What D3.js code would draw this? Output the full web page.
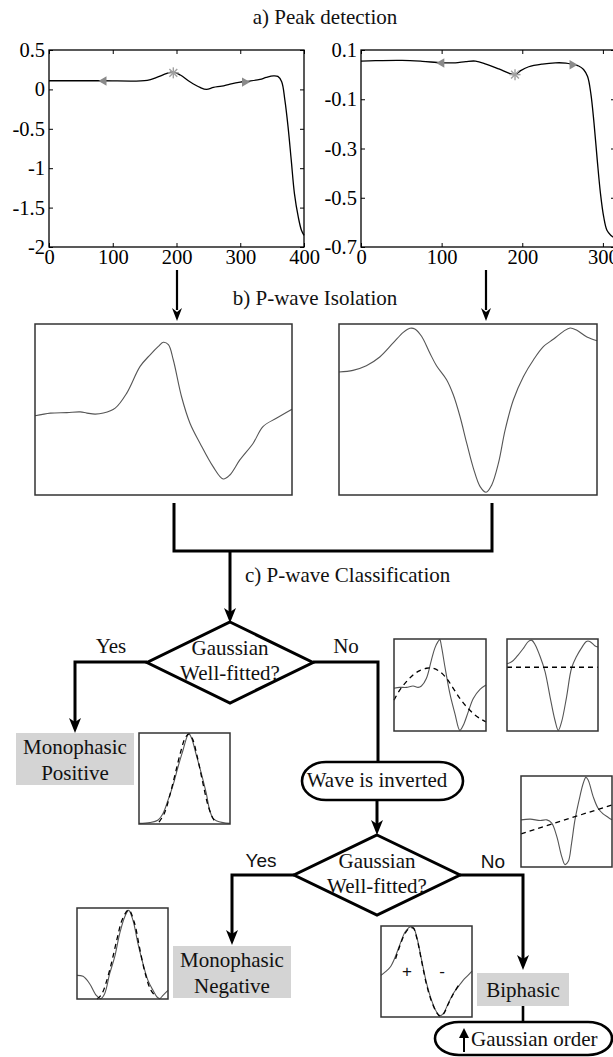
<!DOCTYPE html>
<html>
<head>
<meta charset="utf-8">
<script src="https://cdn.jsdelivr.net/npm/d3@7"></script>
<style>
body { margin: 0; background: #fff; }
svg { display: block; }
</style>
</head>
<body>
<div id="chart"></div>
<script>
// ---- a) peak detection traces ----
const peakLeftX = [0, 81, 154, 169, 185, 195, 206, 221, 237, 247, 258, 271, 284, 300, 315, 331, 341, 352, 359, 365, 370, 375, 380, 385, 391, 396, 400];
const peakLeftY = [0.11, 0.11, 0.114, 0.153, 0.203, 0.222, 0.182, 0.097, 0.025, 0.0, 0.025, 0.042, 0.068, 0.093, 0.106, 0.127, 0.153, 0.172, 0.165, 0.097, -0.136, -0.475, -0.898, -1.322, -1.619, -1.788, -1.852];
const peakLeftMarks = [[86, 0.106, "left"], [195, 0.21, "star"], [307, 0.093, "right"]];
const peakLeftYTicks = [0.5, 0, -0.5, -1, -1.5, -2];
const peakLeftXTicks = [0, 100, 200, 300, 400];

const peakRightX = [0, 18, 51, 76, 100, 117, 130, 142, 155, 171, 184, 191, 198, 208, 225, 241, 254, 262, 270, 276, 281, 285, 289, 293, 297, 301, 305, 310, 314];
const peakRightY = [0.055, 0.057, 0.058, 0.054, 0.048, 0.048, 0.053, 0.055, 0.043, 0.023, 0.005, 0.0, 0.016, 0.032, 0.043, 0.048, 0.047, 0.042, 0.035, 0.021, -0.008, -0.076, -0.198, -0.347, -0.483, -0.578, -0.632, -0.653, -0.662];
const peakRightMarks = [[100, 0.047, "left"], [191, 0.0, "star"], [262, 0.04, "right"]];
const peakRightYTicks = [0.1, -0.1, -0.3, -0.5, -0.7];
const peakRightXTicks = [0, 100, 200, 300];

// ---- b) isolated P-waves (sample %, normalised amplitude) ----
const isoLeftT = [0, 6, 12.4, 17.6, 20.2, 23.4, 26.6, 31.2, 35.7, 40.9, 44.8, 48, 49.9, 51.9, 53.8, 57, 60.3, 64.2, 69.3, 73.2, 75.8, 79.7, 84.9, 88.7, 93.9, 100];
const isoLeftV = [0.463, 0.479, 0.482, 0.486, 0.479, 0.473, 0.479, 0.508, 0.596, 0.752, 0.82, 0.869, 0.893, 0.879, 0.791, 0.576, 0.42, 0.303, 0.166, 0.094, 0.117, 0.205, 0.303, 0.4, 0.449, 0.502];
const isoRightT = [0, 5.4, 10.6, 15.8, 21, 24.9, 27.5, 29.4, 32, 35.2, 37.8, 41.7, 44.3, 46.9, 49.5, 52.1, 54.7, 57, 59.2, 61.8, 64.4, 67.6, 71.5, 75.4, 79.3, 83.2, 87, 89.6, 92.2, 96.1, 100];
const isoRightV = [0.719, 0.729, 0.756, 0.807, 0.889, 0.951, 0.975, 0.971, 0.928, 0.83, 0.756, 0.674, 0.586, 0.459, 0.303, 0.156, 0.049, 0.016, 0.059, 0.186, 0.381, 0.557, 0.693, 0.791, 0.869, 0.912, 0.957, 0.977, 0.963, 0.924, 0.902];

// ---- c) classification insets: solid = wave, dashed = gaussian fit ----
const fitBadT = [0, 6.2, 13.5, 20.7, 26.2, 29.8, 35.3, 40.7, 44.4, 48, 49.8, 51.6, 55.3, 60.7, 66.2, 71.6, 75.3, 80.7, 86.2, 93.5, 100];
const fitBadV = [0.464, 0.474, 0.474, 0.489, 0.474, 0.489, 0.573, 0.774, 0.901, 0.974, 0.993, 0.92, 0.701, 0.409, 0.19, 0.007, 0.062, 0.208, 0.354, 0.453, 0.5];
const fitBadFitT = [0, 6.2, 13.5, 20.7, 28, 35.3, 42.5, 49.8, 57.1, 64.4, 71.6, 78.9, 86.2, 93.5, 100];
const fitBadFitV = [0.336, 0.445, 0.536, 0.609, 0.657, 0.682, 0.682, 0.646, 0.573, 0.464, 0.354, 0.263, 0.19, 0.135, 0.099];

const fitNegT = [0, 5.5, 10.9, 18.2, 23.6, 27.3, 30.9, 36.4, 41.8, 47.3, 52.7, 56.4, 60, 65.5, 70.9, 76.4, 81.8, 87.3, 90.9, 96.4, 100];
const fitNegV = [0.73, 0.755, 0.81, 0.901, 0.974, 0.985, 0.938, 0.81, 0.646, 0.372, 0.117, 0.007, 0.099, 0.372, 0.682, 0.81, 0.901, 0.974, 0.974, 0.927, 0.912];
const fitNegFitT = [0, 100];
const fitNegFitV = [0.693, 0.693];

const monoPosT = [0, 11.8, 21, 26.5, 32, 37.5, 43, 48.5, 52.9, 54.8, 57.7, 62.9, 68.4, 73.9, 77.6, 81.3, 84.9, 92.3, 100];
const monoPosV = [0.007, 0.015, 0.044, 0.118, 0.265, 0.43, 0.632, 0.816, 0.963, 0.993, 0.945, 0.761, 0.559, 0.338, 0.154, 0.063, 0.037, 0.015, 0.007];
const monoPosFitT = [22, 28, 34, 40, 46, 51, 55, 59, 64, 70, 76, 82, 86];
const monoPosFitV = [0.02, 0.12, 0.32, 0.56, 0.8, 0.95, 0.99, 0.93, 0.74, 0.46, 0.2, 0.05, 0.01];

const invBadT = [0, 10.2, 21.1, 28.4, 33.8, 39.3, 44.7, 48.4, 52, 55.6, 59.3, 64.7, 68.4, 71.3, 73.8, 79.3, 84.7, 90.2, 95.6, 100];
const invBadV = [0.518, 0.526, 0.511, 0.518, 0.482, 0.336, 0.117, 0.026, 0.062, 0.263, 0.518, 0.774, 0.92, 0.985, 0.956, 0.774, 0.646, 0.584, 0.547, 0.518];
const invBadFitT = [0, 100];
const invBadFitV = [0.365, 0.682];

const monoNegT = [0, 6.6, 13.9, 21.2, 26, 30.4, 35.9, 41.4, 46.9, 52.4, 56.8, 61.5, 67, 72.5, 78, 83.5, 87.9, 90.8, 94.5, 100];
const monoNegV = [0.26, 0.249, 0.168, 0.04, 0.004, 0.059, 0.278, 0.462, 0.718, 0.901, 0.974, 0.864, 0.608, 0.388, 0.205, 0.095, 0.022, 0.004, 0.04, 0.095];
const monoNegFitT = [22, 27, 32, 38, 44, 50, 56.8, 63, 69, 75, 81, 87];
const monoNegFitV = [0.0, 0.05, 0.18, 0.4, 0.66, 0.88, 0.98, 0.84, 0.55, 0.28, 0.1, 0.02];

const biphT = [0, 4.7, 10.2, 15.6, 21.1, 26.5, 32, 35.6, 39.3, 44.7, 50.2, 55.6, 61.1, 64.7, 68.4, 73.8, 79.3, 84.7, 90.2, 95.6, 100];
const biphV = [0.458, 0.495, 0.549, 0.659, 0.806, 0.934, 0.989, 0.982, 0.879, 0.623, 0.366, 0.183, 0.055, 0.015, 0.037, 0.147, 0.256, 0.33, 0.403, 0.458, 0.505];
const biphFitT = [16, 21, 26.5, 32, 35.6, 39.3, 44.7, 50.2, 55.6, 61.1, 64.7, 68.4, 73.8, 79.3, 86];
const biphFitV = [0.64, 0.79, 0.92, 0.98, 0.975, 0.87, 0.61, 0.35, 0.17, 0.05, 0.01, 0.03, 0.14, 0.25, 0.36];

const W = 613, H = 1057;
const serif = "'Liberation Serif', 'Times New Roman', serif";
const sans = "'Liberation Sans', Arial, sans-serif";

const svg = d3.select("#chart").append("svg")
    .attr("width", W)
    .attr("height", H)
    .style("font-family", serif);

const zip = (a, b) => a.map((d, i) => [d, b[i]]);

// ---------- a) peak detection plots ----------
function peakPlot(o) {
    const x = d3.scaleLinear().domain(o.xDomain).range([o.left, o.right]);
    const y = d3.scaleLinear().domain(o.yDomain).range([o.bottom, o.top]);
    const g = svg.append("g");

    const tick = a => a.tickSizeOuter(0).tickSize(-4);
    g.append("g").attr("transform", `translate(${o.left},0)`)
        .call(tick(d3.axisLeft(y)).tickValues(o.yTicks).tickPadding(4).tickFormat(d => String(d)));
    g.append("g").attr("transform", `translate(0,${o.bottom})`)
        .call(tick(d3.axisBottom(x)).tickValues(o.xTicks).tickPadding(2).tickFormat(d => String(d)));
    g.append("g").attr("transform", `translate(${o.right},0)`)
        .call(tick(d3.axisRight(y)).tickValues(o.yTicks).tickFormat(""));
    g.append("g").attr("transform", `translate(0,${o.top})`)
        .call(tick(d3.axisTop(x)).tickValues(o.xTicks).tickFormat(""));
    g.selectAll(".domain").remove();
    g.selectAll(".tick line").attr("stroke", "#000").attr("stroke-width", 1);
    g.selectAll(".tick text").attr("fill", "#000")
        .style("font-family", serif).style("font-size", "20.5px");

    g.append("rect")
        .attr("x", o.left).attr("y", o.top)
        .attr("width", o.right - o.left).attr("height", o.bottom - o.top)
        .attr("fill", "none").attr("stroke", "#000").attr("stroke-width", 1.3);

    g.append("path")
        .attr("d", d3.line().x(d => x(d[0])).y(d => y(d[1])).curve(d3.curveCatmullRom)(zip(o.xs, o.ys)))
        .attr("fill", "none").attr("stroke", "#000").attr("stroke-width", 1.3);

    const grey = "#8a8a8a";
    o.marks.forEach(m => {
        const cx = x(m[0]), cy = y(m[1]);
        if (m[2] === "star") {
            const s = 5.5;
            const st = g.append("g").attr("stroke", "#a0a0a0").attr("stroke-width", 1.4);
            [[0, s], [s, 0], [s * 0.72, s * 0.72], [s * 0.72, -s * 0.72]].forEach(v => {
                st.append("line").attr("x1", cx - v[0]).attr("y1", cy - v[1])
                    .attr("x2", cx + v[0]).attr("y2", cy + v[1]);
            });
        } else {
            g.append("path")
                .attr("d", d3.symbol().type(d3.symbolTriangle).size(38)())
                .attr("transform", `translate(${cx},${cy}) rotate(${m[2] === "left" ? -90 : 90})`)
                .attr("fill", grey);
        }
    });
}

peakPlot({ left: 49, right: 304, top: 50, bottom: 247, xDomain: [0, 400], yDomain: [-2, 0.5],
    yTicks: peakLeftYTicks, xTicks: peakLeftXTicks, xs: peakLeftX, ys: peakLeftY, marks: peakLeftMarks });
peakPlot({ left: 361, right: 615, top: 50, bottom: 247, xDomain: [0, 315], yDomain: [-0.7, 0.1],
    yTicks: peakRightYTicks, xTicks: peakRightXTicks, xs: peakRightX, ys: peakRightY, marks: peakRightMarks });

// ---------- helpers ----------
function label(x, y, txt, opts = {}) {
    return svg.append("text")
        .attr("x", x).attr("y", y)
        .attr("text-anchor", opts.anchor || "middle")
        .style("font-family", opts.font || serif)
        .style("font-size", (opts.size || 21) + "px")
        .attr("fill", "#111")
        .text(txt);
}

function arrowDown(x, yTip, len, w) {
    svg.append("path")
        .attr("d", `M${x},${yTip} L${x - w / 2},${yTip - len} L${x},${yTip - len + 4} L${x + w / 2},${yTip - len} Z`)
        .attr("fill", "#000");
}

function trace(box, ts, vs, dashed) {
    const x = d3.scaleLinear().domain([0, 100]).range([box[0], box[0] + box[2]]);
    const y = d3.scaleLinear().domain([0, 1]).range([box[1] + box[3], box[1]]);
    svg.append("path")
        .attr("d", d3.line().x(d => x(d[0])).y(d => y(d[1])).curve(d3.curveCatmullRom)(zip(ts, vs)))
        .attr("fill", "none")
        .attr("stroke", dashed ? "#000" : "#555")
        .attr("stroke-width", dashed ? 1.3 : 1.1)
        .attr("stroke-dasharray", dashed ? "5,4" : null);
}

function frame(box) {
    svg.append("rect")
        .attr("x", box[0]).attr("y", box[1]).attr("width", box[2]).attr("height", box[3])
        .attr("fill", "none").attr("stroke", "#333").attr("stroke-width", 1.5);
}

function thick(d, w) {
    svg.append("path").attr("d", d).attr("fill", "none")
        .attr("stroke", "#000").attr("stroke-width", w || 3);
}

// ---------- titles ----------
label(325, 24, "a) Peak detection");
label(315, 305, "b) P-wave Isolation");
label(245, 582, "c) P-wave Classification", { anchor: "start" });

// arrows from peak plots to isolation boxes
thick("M177,270 V310", 2.2);
arrowDown(177, 321, 13, 10);
thick("M486,270 V310", 2.2);
arrowDown(486, 321, 13, 10);

// ---------- b) isolation boxes ----------
const isoLeftBox = [35, 324, 257, 171];
const isoRightBox = [339, 324, 258, 171];
trace(isoLeftBox, isoLeftT, isoLeftV, false);
trace(isoRightBox, isoRightT, isoRightV, false);
frame(isoLeftBox);
frame(isoRightBox);

// ---------- c) flowchart ----------
thick("M174,503 V551 H492 V503");
thick("M230,551 V612");
arrowDown(230, 623, 15, 12);

function diamond(cx, top, hw, hh) {
    svg.append("path")
        .attr("d", `M${cx},${top} L${cx + hw},${top + hh} L${cx},${top + 2 * hh} L${cx - hw},${top + hh} Z`)
        .attr("fill", "#fff").attr("stroke", "#000").attr("stroke-width", 3);
    label(cx, top + 33, "Gaussian");
    label(cx, top + 58, "Well-fitted?");
}

function greyBox(x, y, w, h, lines, base) {
    svg.append("rect").attr("x", x).attr("y", y).attr("width", w).attr("height", h).attr("fill", "#d4d4d4");
    lines.forEach((t, i) => label(x + w / 2, y + base + i * 26, t));
}

function oval(x, y, w, h) {
    svg.append("rect").attr("x", x).attr("y", y).attr("width", w).attr("height", h)
        .attr("rx", 24).attr("ry", h / 2)
        .attr("fill", "#fff").attr("stroke", "#000").attr("stroke-width", 2.6);
}

// first decision
thick("M147,662 H75 V722");
arrowDown(75, 733, 15, 12);
thick("M313,662 H378 V762");
diamond(230, 622, 83, 40.5);
label(111, 653, "Yes");
label(346, 653, "No");

greyBox(16, 733, 118, 52, ["Monophasic", "Positive"], 21);

const monoPosBox = [139, 733, 91, 91];
trace(monoPosBox, monoPosT, monoPosV, false);
trace(monoPosBox, monoPosFitT, monoPosFitV, true);
frame(monoPosBox);

const fitBadBox = [394, 639, 92, 92];
trace(fitBadBox, fitBadT, fitBadV, false);
trace(fitBadBox, fitBadFitT, fitBadFitV, true);
frame(fitBadBox);

const fitNegBox = [507, 639, 91, 92];
trace(fitNegBox, fitNegT, fitNegV, false);
trace(fitNegBox, fitNegFitT, fitNegFitV, true);
frame(fitNegBox);

// inversion step
oval(302, 762, 161, 38);
label(377, 787, "Wave is inverted");
thick("M377,800 V824");
arrowDown(377, 835, 15, 12);

const invBadBox = [521, 776, 91, 91];
trace(invBadBox, invBadT, invBadV, false);
trace(invBadBox, invBadFitT, invBadFitV, true);
frame(invBadBox);

// second decision
thick("M294,875 H232 V934");
arrowDown(232, 945, 15, 12);
thick("M460,875 H523 V959");
arrowDown(523, 970, 15, 12);
diamond(377, 835, 83, 40);
label(261, 867, "Yes", { font: sans, size: 19 });
label(493, 868, "No", { font: sans, size: 19 });

const monoNegBox = [77, 908, 91, 91];
trace(monoNegBox, monoNegT, monoNegV, false);
trace(monoNegBox, monoNegFitT, monoNegFitV, true);
frame(monoNegBox);

greyBox(173, 946, 118, 52, ["Monophasic", "Negative"], 21);

const biphBox = [381, 926, 91, 91];
trace(biphBox, biphT, biphV, false);
trace(biphBox, biphFitT, biphFitV, true);
frame(biphBox);
label(407, 977, "+", { font: sans, size: 17 });
label(442, 977, "-", { font: sans, size: 17 });

greyBox(477, 973, 92, 33, ["Biphasic"], 24);
thick("M523,1006 V1023", 2.6);
oval(435, 1022, 177, 33);
svg.append("line").attr("x1", 464).attr("y1", 1052).attr("x2", 464).attr("y2", 1036)
    .attr("stroke", "#000").attr("stroke-width", 2);
svg.append("path").attr("d", "M464,1028 L459,1038 L469,1038 Z").attr("fill", "#000");
label(471, 1046, "Gaussian order", { anchor: "start" });
</script>
</body>
</html>
